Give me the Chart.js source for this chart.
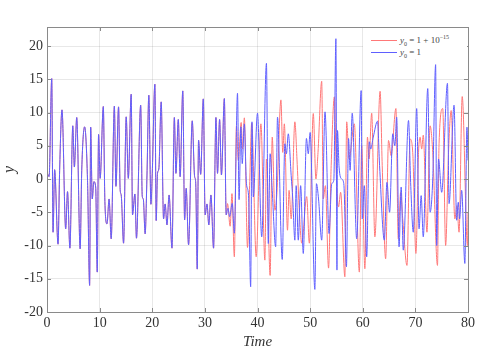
<html lang="en">
<head>
  <meta charset="utf-8">
  <title>Lorenz y(t)</title>
  <style>
    body { padding: 0; margin: 0; background: #fff; }
    #wrap { position: relative; width: 482px; height: 351px; }
    #legend {
      position: absolute; left: 363px; top: 28px; width: 104px; height: 31px;
      background: #fff; font-family: "Liberation Serif", serif; font-size: 9px; color: #444; font-weight: normal;
    }
    #legend .row { position: absolute; left: 8px; height: 10px; line-height: 10px; white-space: nowrap; }
    #legend .sw { display: inline-block; width: 26px; height: 0; vertical-align: middle; margin-right: 3px; }
    #legend sub, #legend sup { font-size: 6px; line-height: 0; }
  </style>
  <script src="https://cdn.jsdelivr.net/npm/chart.js@4.4.1/dist/chart.umd.min.js"></script>
</head>
<body>
  <div id="wrap">
    <canvas id="chart" width="482" height="351"></canvas>
    <div id="legend">
      <div class="row" style="top:7px"><span class="sw" style="border-top:1px solid rgb(255,120,120)"></span><i>y</i><sub>0</sub> = 1 + 10<sup>&minus;15</sup></div>
      <div class="row" style="top:19px"><span class="sw" style="border-top:1px solid rgb(95,95,255)"></span><i>y</i><sub>0</sub> = 1</div>
    </div>
  </div>
  <script>
    // both runs follow the same path up to t ~ 34
    const sharedT = [0,0.4,0.9,1.15,1.45,2.1,2.4,2.85,3.55,3.9,4.35,4.9,5.2,5.65,6.3,6.6,7.15,7.7,8.1,8.3,8.6,8.9,9.25,9.55,9.8,10.1,10.7,11.0,11.4,11.8,12.2,12.8,13.1,13.6,13.9,14.1,14.55,15.05,15.45,16.0,16.25,16.7,17.0,17.8,18.1,18.3,18.65,19.0,19.35,19.75,20.0,20.5,20.75,21.0,21.25,21.7,22.15,22.45,22.8,23.2,23.75,24.2,24.5,24.95,25.3,25.8,26.15,26.45,26.9,27.6,28.05,28.25,28.55,28.8,29.2,29.7,30.05,30.4,30.75,31.15,31.65,32.1,32.4,32.8,33.15,33.7,34.05];
    const sharedY = [1,0.35,15.1,-8,1.4,-9.8,1.3,10.4,-7.5,-1.9,-10.4,8.0,1.8,9.25,-10.5,1.3,7.85,-0.2,-16,7.8,-3,-0.4,-1.2,-14,6.7,0.1,10.9,-3.4,-6.75,-3,-9,10.95,-1.1,10.85,-1.6,-2.4,-9.65,9.35,0.1,12.75,-5.4,-2.25,-8.9,11.1,-2.6,-3,-8.25,0.6,12.6,-3.8,0.8,14.25,-6.25,0.85,1.5,11.6,-6.0,-3.75,-6.9,-2.4,-10.4,9.25,0.85,8.95,0.35,13.25,-6.15,-1.4,-9.9,8.75,0.35,-0.4,-13.55,5.85,0.7,12.05,-5.4,-3.75,-6.9,-2.4,-10.4,9.25,0.85,8.95,0.6,12.1,-5.4];

    // y0 = 1 after the split
    const blueT = [34.4,34.7,35.2,35.6,36.2,36.5,36.85,37.1,37.5,37.9,38.3,38.7,38.95,39.2,40.0,40.8,41.7,42.05,42.4,42.8,43.45,43.8,44.7,45.2,45.5,45.85,46.4,46.7,47.1,47.35,47.75,48.2,48.7,49.3,49.65,50.0,50.9,51.2,51.6,52.2,52.83,53.6,54.1,54.5,54.9,55.1,55.2,55.5,56.0,56.4,56.9,57.3,57.6,58.0,58.85,59.7,59.9,60.3,60.75,61.25,61.5,62.0,62.8,63.2,64.1,64.6,65.1,65.7,66.1,66.45,66.9,67.3,67.7,68.7,69.1,69.6,70.25,70.7,71.1,71.5,72.35,72.8,73.3,73.85,74.05,74.4,75.0,76.1,76.4,77.35,77.85,78.15,78.4,78.8,79.4,79.8,80];
    const blueY = [-4.4,-5.65,-3.65,-8.15,12.9,-3.1,7.85,2.3,8.3,-0.7,-2.5,-16.2,8.6,-2.7,9.9,-8.7,17.4,-9.7,3.8,-1.7,-10.2,9.3,-12.1,5.3,3.8,6.8,0.5,-3,-9.2,-1.0,-9.2,-1.0,-11.2,6.1,3.8,7.0,-16.6,-0.7,-3,-9.2,10.1,-8.2,-0.7,-0.2,21.1,-13.7,7.3,1.8,0,-0.7,-13.2,6.1,1.3,9.9,-9,13.3,-6,-1,-11.7,5.6,4.5,6.3,8.7,2,-9.2,-0.5,-5,6.8,5,9.3,-10.2,-1.2,-10.7,8.8,-0.5,-8,10.6,-7.5,-2.5,-8.7,13.6,-5,0,17.2,-10,3,-2,14.4,-3.7,11.1,-6.2,-3.5,-6,-1.7,-12.7,7.8,2.8];

    // y0 = 1 + 1e-15 after the split
    const redT = [34.3,34.8,35.15,35.6,36.0,36.35,36.9,37.15,37.5,38.1,38.5,38.9,39.75,40.65,41.4,41.7,42.4,42.8,43.3,43.7,44.45,44.8,45.1,45.7,46.0,46.4,47.1,47.5,47.9,48.4,49.35,49.85,50.6,51.1,51.5,52.2,52.5,52.9,53.5,54.0,54.6,55.0,55.4,55.8,56.6,56.95,57.4,58.4,59.35,59.8,60.4,60.9,61.2,61.7,62.3,63.3,63.7,64.35,64.9,65.4,66.3,66.75,67.2,67.6,68.4,69.0,69.5,70.1,70.6,70.9,71.2,71.5,72.2,72.8,73.3,74.2,74.5,75.2,75.75,76.3,76.8,77.5,77.9,78.3,78.9,79.9,80];
    const redY = [-3.7,-7.1,-2.2,-11.7,8.0,2.8,8.5,4.5,9.2,-10.3,-1.0,8.4,-11.7,8.3,-12.2,3.0,-14.5,6.3,-4.7,-2.0,11.9,4.0,8.3,-7.7,-1.7,-6.0,8.6,3,-4,-9.65,-2.65,-9.65,9.85,0,4,14.7,-3,-1,-13.4,2,12.35,0,-4.2,-2,-14.7,8.6,3,8.3,-14,5,-13.5,6.3,3,9.9,-8.7,13.2,2,-12.0,5.8,3.5,10.6,-9,-2,-6,-13,6,4,-11.2,4,6.3,4.5,6.6,-8,8,4,-13,5.3,10.6,-10,4,10.3,-6,-4,-8,12.4,-10,-5];

    const xTicks = [0,10,20,30,40,50,60,70,80];
    const yTicks = [-20,-15,-10,-5,0,5,10,15,20];

    function pts(t, y) { return t.map((v, i) => ({ x: v, y: y[i] })); }
    const bluePts = pts(sharedT, sharedY).concat(pts(blueT, blueY));
    const redPts = pts(sharedT, sharedY).concat(pts(redT, redY));

    const serif = '"Liberation Serif", "DejaVu Serif", serif';

    // MATLAB-like box with inward ticks
    const boxPlugin = {
      id: 'box',
      afterDatasetsDraw(chart) {
        const { ctx, chartArea: a, scales } = chart;
        ctx.save();
        ctx.strokeStyle = '#8a8a8a';
        ctx.lineWidth = 1;
        ctx.beginPath();
        xTicks.forEach(v => {
          const px = Math.round(scales.x.getPixelForValue(v)) + 0.5;
          ctx.moveTo(px, a.bottom); ctx.lineTo(px, a.bottom - 4);
          ctx.moveTo(px, a.top); ctx.lineTo(px, a.top + 4);
        });
        yTicks.forEach(v => {
          const py = Math.round(scales.y.getPixelForValue(v)) + 0.5;
          ctx.moveTo(a.left, py); ctx.lineTo(a.left + 4, py);
          ctx.moveTo(a.right, py); ctx.lineTo(a.right - 4, py);
        });
        ctx.stroke();
        ctx.strokeRect(Math.round(a.left) + 0.5, Math.round(a.top) + 0.5,
          Math.round(a.right - a.left), Math.round(a.bottom - a.top));
        ctx.restore();
      }
    };

    new Chart(document.getElementById('chart'), {
      type: 'line',
      data: {
        datasets: [
          { label: 'y0 = 1 + 10^-15', data: redPts, borderColor: 'rgb(255,120,120)', borderWidth: 1,
            pointRadius: 0, cubicInterpolationMode: 'monotone', order: 2 },
          { label: 'y0 = 1', data: bluePts, borderColor: 'rgb(95,95,255)', borderWidth: 1,
            pointRadius: 0, cubicInterpolationMode: 'monotone', order: 1 }
        ]
      },
      options: {
        responsive: false,
        animation: false,
        layout: { padding: { top: 27, right: 14, left: 0, bottom: 0 } },
        plugins: { legend: { display: false }, tooltip: { enabled: false } },
        scales: {
          x: {
            type: 'linear', min: 0, max: 80,
            afterBuildTicks: s => { s.ticks = xTicks.map(v => ({ value: v })); },
            afterFit: s => { s.height = 39; },
            grid: { color: 'rgba(0,0,0,0.09)', drawTicks: false },
            border: { display: false },
            ticks: { color: '#333', font: { family: serif, size: 14 }, padding: 3, maxRotation: 0 },
            title: { display: true, text: 'Time', color: '#333', padding: 0,
              font: { family: serif, size: 15, style: 'italic' } }
          },
          y: {
            type: 'linear', min: -20, max: 22.86,
            afterBuildTicks: s => { s.ticks = yTicks.map(v => ({ value: v })); },
            afterFit: s => { s.width = 47; },
            grid: { color: 'rgba(0,0,0,0.09)', drawTicks: false },
            border: { display: false },
            ticks: { color: '#333', font: { family: serif, size: 14 }, padding: 4 },
            title: { display: true, text: 'y', color: '#333', padding: 0,
              font: { family: serif, size: 16, style: 'italic' } }
          }
        }
      },
      plugins: [boxPlugin]
    });
  </script>
</body>
</html>
